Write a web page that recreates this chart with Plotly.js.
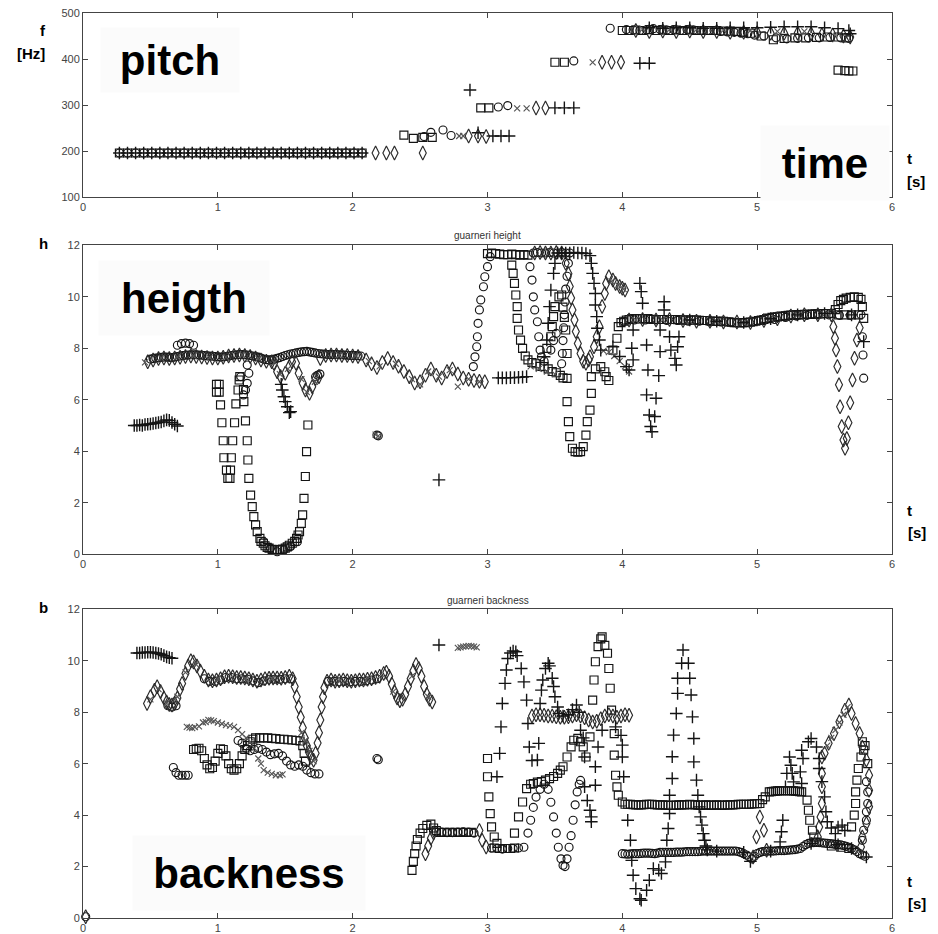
<!DOCTYPE html>
<html><head><meta charset="utf-8">
<script src="https://cdn.plot.ly/plotly-3.0.1.min.js"></script>
<style>html,body{margin:0;padding:0;background:#fff}#chart{width:938px;height:934px}</style>
</head><body><div id="chart"></div>
<script>
// ---------- PLOT 1: pitch (f [Hz] vs t [s]) ----------
const p1SqX=[0.27,0.33,0.39,0.45,0.51,0.57,0.63,0.69,0.75,0.81,0.87,0.93,0.99,1.05,1.11,1.17,1.23,1.29,1.35,1.41,1.47,1.53,1.59,1.65,1.71,1.77,1.83,1.89,1.95,2.01,2.07,2.38,2.45,2.52,2.59,2.95,3.01,3.50,3.57,4.00,4.05,4.10,4.15,4.20,4.25,4.30,4.35,4.40,4.45,4.50,4.55,4.60,4.65,4.70,4.75,4.80,4.85,4.90,4.95,5.03,5.12,5.20,5.28,5.36,5.44,5.52,5.60,5.66,5.60,5.65,5.68,5.71];
const p1SqY=[196,196,196,196,196,196,196,196,196,196,196,196,196,196,196,196,196,196,196,196,196,196,196,196,196,196,196,196,196,196,196,235,228,230,230,294,294,393,393,462,462,463,462,464,462,463,462,463,462,463,462,462,462,462,461,461,460,458,456,450,442,445,446,446,447,448,448,446,376,375,374,374];
const p1CiX=[0.27,0.33,0.39,0.45,0.51,0.57,0.63,0.69,0.75,0.81,0.87,0.93,0.99,1.05,1.11,1.17,1.23,1.29,1.35,1.41,1.47,1.53,1.59,1.65,1.71,1.77,1.83,1.89,1.95,2.01,2.07,2.53,2.58,2.67,2.73,3.08,3.15,3.64,3.91,4.03,4.08,4.13,4.18,4.23,4.28,4.33,4.38,4.43,4.48,4.53,4.58,4.63,4.68,4.73,4.78,4.83,4.88,4.93,4.98,5.05,5.14,5.22,5.30,5.38,5.46,5.54,5.62,5.68];
const p1CiY=[196,196,196,196,196,196,196,196,196,196,196,196,196,196,196,196,196,196,196,196,196,196,196,196,196,196,196,196,196,196,196,232,241,246,234,296,299,396,467,464,463,462,463,466,464,463,464,462,464,463,462,462,462,460,459,458,456,455,452,450,446,444,445,446,446,447,446,445];
const p1DiX=[2.17,2.25,2.31,2.52,2.86,2.93,2.99,3.36,3.43,3.85,3.92,3.99,4.10,4.20,4.30,4.40,4.50,4.60,4.70,4.80,4.90,5.00,5.10,5.20,5.30,5.40,5.48,5.56,5.64,5.69];
const p1DiY=[196,196,196,196,233,233,232,294,294,393,393,393,462,460,461,460,461,460,460,458,458,457,456,456,456,455,453,452,450,448];
const p1XmX=[2.79,2.82,3.22,3.29,3.78,4.15,4.35,4.55,4.75,4.95,5.15,5.35];
const p1XmY=[233,233,293,293,393,465,464,464,463,462,460,460];
const p1PlX=[0.27,0.33,0.39,0.45,0.51,0.57,0.63,0.69,0.75,0.81,0.87,0.93,0.99,1.05,1.11,1.17,1.23,1.29,1.35,1.41,1.47,1.53,1.59,1.65,1.71,1.77,1.83,1.89,1.95,2.01,2.07,2.87,2.93,3.04,3.10,3.16,3.50,3.57,3.64,4.13,4.20,4.20,4.30,4.40,4.50,4.60,4.70,4.80,4.90,5.00,5.10,5.20,5.30,5.40,5.50,5.60,5.68,5.69];
const p1PlY=[196,196,196,196,196,196,196,196,196,196,196,196,196,196,196,196,196,196,196,196,196,196,196,196,196,196,196,196,196,196,196,333,240,233,233,233,294,294,294,391,391,468,467,468,468,467,467,468,468,468,469,470,470,470,468,466,462,455];

// ---------- PLOT 2: height (h vs t) ----------
const p2SqX=[0.99,1.01,0.99,1.01,1.02,1.03,1.04,1.045,1.064,1.074,1.09,1.094,1.10,1.11,1.124,1.134,1.15,1.158,1.163,1.19,1.193,1.205,1.218,1.223,1.23,1.243,1.255,1.267,1.28,1.292,1.312,1.337,1.366,1.403,1.44,1.478,1.515,1.552,1.584,1.606,1.619,1.629,1.639,1.649,1.658,1.668,1.32,1.35,1.38,1.42,1.46,1.50,1.53,1.57,1.595,
3.00,3.03,3.06,3.09,3.12,3.15,3.18,3.21,3.24,3.27,3.30,3.18,3.19,3.20,3.21,3.22,3.22,3.23,3.245,3.26,3.28,3.30,3.33,3.36,3.39,3.42,3.45,3.48,3.51,3.54,3.56,3.44,3.47,3.48,3.49,3.50,3.53,3.55,3.56,3.57,3.58,3.59,3.59,3.59,3.60,3.61,3.63,3.65,3.67,3.69,3.71,3.73,3.74,3.76,3.77,3.77,3.80,3.84,3.87,3.88,3.90,3.93,3.96,3.97,
3.99,4.03,4.07,4.11,4.15,4.19,4.23,4.27,4.31,4.35,4.39,4.43,4.47,4.51,4.55,4.59,4.63,4.67,4.71,4.75,4.79,4.83,4.87,4.91,4.95,4.99,5.03,5.07,5.11,5.15,5.19,5.23,5.27,5.31,5.35,5.39,5.43,5.47,5.51,5.55,
4.01,4.05,4.09,4.13,4.17,4.21,4.25,4.29,4.33,4.37,4.41,4.45,4.49,4.53,4.57,4.61,4.65,4.69,4.73,4.77,4.81,4.85,4.89,4.93,4.97,5.01,5.05,5.09,5.13,5.17,5.21,5.25,5.29,5.33,5.37,5.41,5.45,5.49,5.53,
5.58,5.60,5.62,5.64,5.66,5.69,5.72,5.75,5.77,5.78,5.79,5.60,5.65,5.70,5.75];
const p2SqY=[6.6,6.6,6.3,6.3,5.8,5.11,4.41,3.75,3.27,2.95,2.95,3.27,3.75,4.41,5.11,5.84,6.38,6.77,6.9,6.4,5.93,5.18,4.41,3.66,2.95,2.3,1.85,1.46,1.14,0.88,0.62,0.43,0.27,0.19,0.17,0.2,0.29,0.43,0.62,0.88,1.2,1.53,2.17,3.02,3.99,5.02,0.5,0.33,0.24,0.18,0.18,0.24,0.35,0.5,0.75,
11.68,11.7,11.68,11.66,11.64,11.64,11.66,11.64,11.62,11.64,11.62,11.23,10.91,10.52,10.07,9.62,9.16,8.71,8.32,8.0,7.7,7.55,7.45,7.4,7.3,7.29,7.2,7.1,7.05,6.95,6.85,8.0,8.45,8.84,9.23,9.62,10.0,10.07,9.6,9.2,8.71,7.8,6.83,5.93,5.15,4.57,4.12,3.99,3.97,3.99,4.18,4.63,5.15,5.6,6.25,6.9,7.2,7.29,7.09,6.9,6.75,7.93,8.39,8.84,
9.0,9.1,9.15,9.15,9.15,9.15,9.12,9.12,9.12,9.12,9.12,9.1,9.1,9.1,9.1,9.08,9.08,9.05,9.05,9.05,9.02,9.0,9.0,9.0,9.02,9.05,9.1,9.15,9.2,9.22,9.25,9.28,9.3,9.3,9.32,9.32,9.34,9.34,9.35,9.35,
9.05,9.12,9.15,9.15,9.15,9.13,9.12,9.12,9.12,9.12,9.11,9.1,9.1,9.1,9.09,9.08,9.06,9.05,9.05,9.03,9.01,9.0,9.0,9.01,9.03,9.08,9.12,9.17,9.21,9.24,9.26,9.29,9.3,9.31,9.32,9.33,9.34,9.35,9.35,
9.5,9.7,9.85,9.9,9.95,9.98,10.0,9.98,9.9,9.62,9.16,9.3,9.3,9.3,9.3];
const p2CiX=[0.50,0.54,0.58,0.62,0.66,0.70,0.74,0.78,0.82,0.86,0.90,0.94,0.98,1.02,1.06,1.10,1.14,1.18,1.22,1.26,1.30,1.34,1.38,1.42,1.46,1.50,1.54,1.58,1.62,1.66,1.70,1.74,1.78,1.82,1.86,1.90,1.94,1.98,2.02,2.06,
0.52,0.56,0.60,0.64,0.68,0.72,0.76,0.80,0.84,0.88,0.92,0.96,1.00,1.04,1.08,1.12,1.16,1.20,1.24,1.28,1.32,1.36,1.40,1.44,1.48,1.52,1.56,1.60,1.64,1.68,1.72,1.76,1.80,1.84,1.88,1.92,1.96,2.00,2.04,
0.70,0.73,0.76,0.79,0.82,1.17,1.19,1.205,1.218,1.23,1.218,1.34,1.39,1.44,1.49,1.54,1.59,1.725,1.757,1.74,2.18,2.19,
2.895,2.907,2.92,2.925,2.93,2.94,2.95,2.97,2.98,3.0,3.02,3.34,3.37,3.40,3.43,3.46,3.49,3.52,3.55,3.58,3.61,3.315,3.33,3.34,3.35,3.37,3.38,3.39,3.40,3.42,3.60,3.59,3.58,3.575,3.57,3.565,3.56,3.555,3.55,3.47,3.49,3.51,
4.01,4.09,4.17,4.25,4.33,4.41,4.49,4.57,4.65,4.73,4.81,4.89,4.97,5.05,5.13,5.21,5.29,5.37,5.45,5.53,5.61,5.69,5.77,5.78,5.785,5.79];
const p2CiY=[7.58,7.62,7.65,7.66,7.64,7.68,7.72,7.74,7.75,7.74,7.72,7.70,7.68,7.66,7.68,7.72,7.75,7.76,7.74,7.70,7.66,7.58,7.55,7.58,7.64,7.72,7.78,7.82,7.86,7.88,7.84,7.80,7.78,7.76,7.76,7.75,7.74,7.72,7.72,7.70,
7.6,7.63,7.66,7.65,7.66,7.7,7.73,7.75,7.75,7.73,7.71,7.69,7.67,7.67,7.7,7.74,7.76,7.75,7.72,7.68,7.62,7.56,7.56,7.61,7.68,7.75,7.8,7.84,7.87,7.86,7.82,7.79,7.77,7.76,7.76,7.75,7.73,7.72,7.71,
8.12,8.18,8.2,8.18,8.12,6.9,6.19,6.38,6.64,7.03,7.35,0.49,0.23,0.1,0.17,0.30,0.49,6.9,7.0,6.95,4.63,4.6,
7.29,7.67,8.06,8.45,8.97,9.49,9.88,10.39,10.78,11.17,11.56,11.7,11.72,11.7,11.7,11.72,11.7,11.7,11.72,11.7,11.7,11.17,10.65,10.0,9.49,9.03,8.45,7.93,7.67,7.5,11.3,10.8,10.3,9.8,9.3,8.8,8.3,7.8,7.4,7.93,8.3,8.58,
9.05,9.1,9.1,9.1,9.08,9.08,9.05,9.05,9.02,9.02,9.02,9.0,9.02,9.08,9.12,9.2,9.25,9.28,9.3,9.3,9.28,9.28,9.3,8.45,7.74,6.84];
const p2DiX=[0.48,0.52,0.56,0.60,0.64,0.68,0.72,0.76,0.80,0.84,0.88,0.92,0.96,1.00,1.04,1.08,1.12,1.16,1.20,1.24,1.28,1.32,1.36,1.40,
1.416,1.44,1.465,1.50,1.53,1.55,1.58,1.60,1.63,1.65,1.68,1.70,1.725,1.75,
1.76,1.80,1.84,1.88,1.92,1.96,2.00,2.04,
2.10,2.14,2.18,2.22,2.26,2.30,2.34,2.38,2.42,2.46,2.50,2.54,2.58,2.62,2.66,2.70,2.74,2.78,2.82,2.86,2.90,2.94,2.98,
3.35,3.39,3.43,3.47,3.51,3.55,3.58,3.60,3.61,3.62,3.63,3.645,3.655,3.67,3.69,3.71,3.73,3.75,3.76,3.79,3.81,3.83,3.85,3.87,3.88,3.90,3.93,3.95,3.98,4.0,4.02,
4.05,4.15,4.25,4.35,4.45,4.55,4.65,4.75,4.85,4.95,5.05,5.15,5.25,5.35,5.45,5.55,
5.565,5.577,5.585,5.595,5.607,5.615,5.627,5.64,5.652,5.665,5.677,5.69,5.707,5.722,5.74,5.76];
const p2DiY=[7.48,7.55,7.6,7.62,7.6,7.62,7.65,7.68,7.7,7.68,7.66,7.64,7.62,7.62,7.65,7.7,7.72,7.74,7.72,7.68,7.62,7.55,7.5,7.48,
7.42,7.09,6.9,7.03,7.29,7.48,7.42,7.03,6.64,6.38,6.25,6.51,6.83,6.9,
7.6,7.72,7.74,7.74,7.72,7.72,7.7,7.68,
7.55,7.4,7.25,7.45,7.6,7.45,7.3,7.1,6.9,6.65,6.7,6.95,7.2,6.95,6.85,7.1,7.2,7.0,6.85,6.8,6.75,6.72,6.7,
11.7,11.72,11.7,11.7,11.72,11.7,11.3,10.9,10.4,9.95,9.49,9.1,8.65,8.19,7.8,7.5,7.42,7.55,7.67,8.06,8.45,8.84,9.62,10.13,10.52,10.78,10.65,10.52,10.4,10.33,10.26,
9.1,9.12,9.1,9.12,9.08,9.05,9.05,9.02,9.02,9.0,9.08,9.15,9.25,9.3,9.3,9.3,
8.84,8.39,7.93,7.29,6.58,5.73,4.96,4.44,4.12,4.5,5.11,5.89,6.77,7.61,8.32,8.8];
const p2XmX=[0.46,0.58,0.70,0.82,0.94,1.06,1.18,1.30,1.42,1.46,1.52,1.62,1.66,1.72,1.90,2.02,2.12,2.20,2.32,2.44,2.50,2.56,2.64,2.72,2.78,2.86,2.94,2.17,2.19,
3.32,3.38,3.44,3.50,3.86,3.90,3.94,3.98,4.02,4.05,3.92,3.97,4.01,4.1,4.3,4.5,4.7,4.9,5.1,5.3,5.5];
const p2XmY=[7.45,7.62,7.66,7.7,7.64,7.66,7.74,7.6,7.45,7.0,7.2,6.8,6.3,6.7,7.72,7.7,7.5,7.3,7.4,6.8,6.6,7.1,6.9,7.15,6.51,6.8,6.7,4.65,4.6,
7.3,7.2,7.1,7.0,7.9,7.85,7.7,7.5,7.3,7.1,10.6,10.45,10.3,9.1,9.1,9.05,9.05,9.0,9.15,9.3,9.32];
const p2PlX=[0.38,0.40,0.42,0.44,0.46,0.48,0.50,0.52,0.54,0.56,0.58,0.60,0.62,0.64,0.66,0.68,0.70,
1.47,1.478,1.49,1.50,1.515,1.53,1.54,2.64,
3.08,3.11,3.14,3.17,3.20,3.23,3.26,3.29,3.42,3.44,3.45,3.46,3.47,3.49,3.50,
3.52,3.55,3.58,3.61,3.64,3.67,3.70,3.73,3.76,3.77,3.78,3.79,3.80,3.80,3.81,3.815,3.83,3.84,
3.93,3.98,4.03,4.05,4.08,4.07,4.08,4.13,4.14,4.15,4.18,4.19,4.27,4.18,4.25,4.2,4.24,4.21,4.22,4.28,4.31,4.31,4.35,4.36,4.39,4.40,4.42,4.41,4.28,
4.5,4.7,4.9,5.1,5.3,5.5,5.7,5.79];
const p2PlY=[5.0,5.0,5.02,5.0,5.04,5.05,5.06,5.08,5.1,5.12,5.14,5.18,5.22,5.2,5.12,5.05,4.98,
6.6,6.38,6.12,5.93,5.73,5.5,5.54,2.89,
6.85,6.85,6.85,6.86,6.86,6.87,6.88,6.9,7.67,8.32,8.97,9.62,10.26,10.91,11.3,
11.7,11.7,11.7,11.7,11.72,11.7,11.7,11.68,11.6,11.3,10.91,10.52,10.13,9.68,9.23,8.78,8.32,7.93,
8.06,7.68,7.29,7.16,8.71,8.0,7.55,10.52,10.2,9.75,8.13,7.16,6.94,6.19,6.06,5.41,5.35,4.96,4.76,8.71,9.81,9.49,8.45,7.93,7.61,7.35,8.45,8.06,7.87,
9.1,9.05,9.0,9.15,9.3,9.35,9.3,8.26];

// ---------- PLOT 3: backness (b vs t) ----------
const p3SqX=[0.82,0.84,0.86,0.88,0.90,0.92,0.94,0.96,0.98,1.00,1.02,1.04,1.06,1.08,1.10,1.12,1.14,1.16,1.18,1.20,1.22,1.24,1.26,1.28,1.31,1.34,1.37,1.40,1.43,1.46,1.49,1.52,1.55,1.58,1.61,1.63,1.64,1.65,
2.44,2.45,2.46,2.47,2.48,2.50,2.52,2.55,2.58,2.60,2.62,
2.64,2.68,2.72,2.76,2.80,2.84,2.88,
3.0,3.0,3.01,3.02,3.03,3.05,3.07,3.05,3.09,3.13,3.17,3.2,
3.2,3.23,3.26,3.29,3.32,3.34,3.37,3.40,3.43,3.46,3.49,3.52,3.54,3.56,3.59,3.62,3.64,3.67,3.69,3.71,3.73,3.76,
3.78,3.79,3.80,3.82,3.84,3.85,3.87,3.89,3.9,3.91,3.92,3.94,3.94,3.95,3.96,3.97,4.0,
4.02,4.06,4.10,4.14,4.18,4.22,4.26,4.30,4.34,4.38,4.42,4.46,4.50,4.54,4.58,4.62,4.66,4.70,4.74,4.78,4.82,4.86,4.90,4.94,4.98,5.02,
4.04,4.08,4.12,4.16,4.20,4.24,4.28,4.32,4.36,4.40,4.44,4.48,4.52,4.56,4.60,4.64,4.68,4.72,4.76,4.80,4.84,4.88,4.92,4.96,5.00,5.04,
5.06,5.09,5.12,5.15,5.18,5.21,5.24,5.27,5.30,5.33,5.105,5.135,5.165,5.195,5.225,5.255,5.285,5.315,5.37,5.38,5.39,5.41,5.42,5.44,
5.70,5.72,5.73,5.73,5.74,5.75,5.77,5.79,5.78,5.82,5.80,5.55,5.62,5.68];
const p3SqY=[6.55,6.58,6.6,6.5,6.2,5.95,5.8,5.85,6.1,6.4,6.58,6.55,6.3,6.0,5.8,5.75,5.8,6.0,6.3,6.55,6.7,6.85,6.95,7.0,7.0,7.0,7.0,6.98,6.97,6.95,6.95,6.93,6.92,6.9,6.88,6.7,6.4,6.1,
1.85,2.2,2.5,2.8,3.05,3.3,3.48,3.6,3.65,3.5,3.4,
3.33,3.33,3.33,3.33,3.33,3.33,3.33,
6.2,5.49,4.71,4.06,3.54,3.15,2.9,2.72,2.7,2.7,2.7,2.72,
3.3,3.93,4.51,5.03,5.2,5.23,5.28,5.3,5.36,5.42,5.5,5.62,5.75,5.88,6.26,6.65,6.91,6.98,6.85,6.65,6.26,7.04,
8.47,9.25,9.96,10.55,10.85,10.93,10.6,10.29,9.7,8.93,8.08,7.17,6.33,5.55,5.1,4.77,4.51,
4.42,4.42,4.4,4.4,4.42,4.42,4.4,4.4,4.38,4.38,4.4,4.4,4.42,4.4,4.38,4.4,4.38,4.4,4.38,4.4,4.4,4.42,4.42,4.42,4.44,4.45,
4.42,4.41,4.4,4.41,4.42,4.41,4.4,4.39,4.38,4.39,4.4,4.41,4.41,4.39,4.39,4.39,4.39,4.39,4.39,4.4,4.41,4.42,4.42,4.43,4.44,4.6,
4.71,4.9,4.92,4.94,4.95,4.95,4.95,4.94,4.92,4.9,4.91,4.93,4.95,4.95,4.95,4.95,4.93,4.91,4.58,4.19,3.8,3.41,3.15,2.95,
3.54,4.0,4.45,4.9,5.36,5.81,6.26,6.52,6.85,6.0,6.7,2.8,2.75,2.7];
const p3CiX=[0.02,0.63,0.66,0.69,0.90,0.94,0.98,1.02,1.06,1.10,1.14,1.18,1.22,1.26,1.30,1.34,1.38,1.42,1.46,1.50,1.54,1.82,1.86,1.90,1.94,1.98,2.02,2.06,2.10,2.14,2.18,
0.67,0.69,0.71,0.735,0.76,0.78,1.15,1.18,1.21,1.24,1.27,1.30,1.33,1.36,1.39,1.42,1.45,1.48,1.51,1.54,1.57,1.60,1.63,1.66,1.69,1.72,1.75,2.18,2.19,
2.62,2.66,2.70,2.74,2.78,2.82,2.86,2.90,3.03,3.07,3.11,3.15,3.19,3.23,3.27,
3.30,3.32,3.34,3.36,3.39,3.42,3.45,3.47,3.49,3.51,3.525,3.545,3.56,3.575,3.59,3.605,3.62,3.635,3.65,3.665,3.68,3.69,
4.00,4.04,4.08,4.12,4.16,4.20,4.24,4.28,4.32,4.36,4.40,4.44,4.48,4.52,4.56,4.60,4.64,4.68,4.72,4.76,4.80,4.84,4.88,4.92,4.96,5.00,5.04,5.08,5.12,5.16,5.20,5.24,5.28,5.32,5.36,5.40,5.44,5.48,5.52,5.56,5.60,5.64,5.68,5.72,5.76,5.80,
4.02,4.06,4.10,4.14,4.18,4.22,4.26,4.30,4.34,4.38,4.42,4.46,4.50,4.54,4.58,4.62,4.66,4.70,4.74,4.78,4.82,4.86,4.90,4.94,4.98,5.02,5.06,5.10,5.14,5.18,5.22,5.26,5.30,5.34,5.38,5.42,5.46,5.50,5.54,5.58,5.62,5.66,5.70,5.74,5.78,
5.78,5.79,5.81,5.81,5.82,5.82,5.81];
const p3CiY=[0.05,8.25,8.2,8.25,9.3,9.2,9.2,9.25,9.35,9.35,9.3,9.3,9.28,9.22,9.15,9.22,9.28,9.28,9.28,9.3,9.3,9.2,9.2,9.18,9.2,9.18,9.2,9.2,9.22,9.25,9.3,
5.85,5.65,5.55,5.55,5.55,5.55,6.9,6.8,6.6,6.5,6.55,6.6,6.55,6.45,6.35,6.38,6.4,6.3,6.1,5.95,5.9,5.95,5.9,5.75,5.65,5.6,5.6,6.2,6.15,
3.35,3.33,3.32,3.32,3.33,3.35,3.33,3.3,2.72,2.7,2.68,2.7,2.7,2.72,2.75,
3.3,3.8,4.3,4.7,5.0,5.2,5.0,4.5,3.93,3.3,2.75,2.3,2.05,2.0,2.3,2.75,3.2,3.8,4.4,4.9,5.2,5.35,
2.5,2.48,2.5,2.5,2.52,2.52,2.5,2.55,2.55,2.55,2.56,2.56,2.58,2.58,2.58,2.6,2.6,2.6,2.6,2.6,2.6,2.6,2.55,2.45,2.3,2.5,2.58,2.6,2.6,2.62,2.62,2.64,2.66,2.7,2.85,2.92,2.94,2.92,2.9,2.88,2.85,2.82,2.75,2.65,2.5,2.4,
2.49,2.49,2.5,2.51,2.52,2.51,2.52,2.55,2.55,2.55,2.56,2.57,2.58,2.58,2.59,2.6,2.6,2.6,2.6,2.6,2.6,2.58,2.5,2.38,2.4,2.55,2.59,2.6,2.61,2.62,2.63,2.65,2.68,2.78,2.9,2.93,2.93,2.91,2.89,2.86,2.84,2.79,2.7,2.58,2.45,
3.02,3.41,3.8,4.13,4.45,4.9,5.3];
const p3DiX=[0.02,0.475,0.50,0.53,0.55,0.575,0.60,0.62,0.64,0.66,0.68,0.70,0.72,0.735,0.76,0.78,0.80,0.82,0.845,0.87,0.90,0.93,0.96,0.99,1.02,1.05,1.08,1.11,1.14,1.17,1.20,1.23,1.26,1.29,1.32,1.35,1.38,1.41,1.44,1.47,1.50,1.53,1.555,1.57,1.585,1.60,1.615,1.63,1.645,1.66,1.675,1.69,1.71,1.725,1.74,1.75,1.76,1.77,1.78,1.79,1.81,1.84,1.87,1.90,1.93,1.96,1.99,2.02,2.05,2.08,2.11,2.14,2.17,2.20,2.23,2.25,2.27,2.29,2.31,2.33,2.35,2.37,2.39,2.41,2.43,2.45,2.47,2.49,2.51,2.53,2.55,2.57,2.59,
2.54,2.56,2.58,2.60,2.94,2.96,2.99,
3.33,3.36,3.39,3.42,3.45,3.48,3.51,3.54,3.57,3.60,3.63,3.66,3.69,3.72,3.75,3.78,3.81,3.84,3.87,3.90,3.93,3.96,3.99,4.02,4.05,
4.97,4.995,5.02,5.05,5.07,
5.48,5.48,5.48,5.48,5.47,5.46,5.45,
5.50,5.53,5.57,5.61,5.65,5.68,5.70,5.73,5.76,5.78,5.81,5.83,5.83,5.83,5.81,5.78,5.77];
const p3DiY=[0.05,8.34,8.6,8.85,8.99,8.8,8.55,8.4,8.3,8.28,8.35,8.55,8.9,9.12,9.5,9.8,10.0,9.95,9.8,9.6,9.4,9.25,9.22,9.25,9.3,9.38,9.4,9.38,9.35,9.35,9.33,9.3,9.25,9.2,9.25,9.3,9.32,9.33,9.33,9.32,9.35,9.4,9.3,9.0,8.6,8.2,7.8,7.4,7.0,6.7,6.45,6.25,6.13,6.4,6.8,7.2,7.7,8.2,8.6,8.95,9.2,9.25,9.2,9.22,9.25,9.22,9.2,9.22,9.25,9.25,9.28,9.3,9.35,9.4,9.5,9.55,9.4,9.1,8.8,8.55,8.45,8.5,8.7,9.0,9.3,9.6,9.85,9.7,9.4,9.0,8.7,8.5,8.4,
2.5,2.8,3.1,3.3,3.4,3.02,2.76,
7.85,7.9,7.9,7.88,7.85,7.85,7.82,7.8,7.8,7.82,7.85,7.9,7.85,7.78,7.7,7.62,7.65,7.75,7.85,7.9,7.85,7.8,7.85,7.9,7.88,
2.37,3.15,3.93,3.41,2.63,
6.26,5.62,5.1,4.45,3.93,3.54,3.15,
6.4,6.79,7.17,7.63,8.08,8.28,7.95,7.56,7.17,6.65,6.14,5.55,4.97,4.32,3.67,3.15,2.76];
const p3XmX=[0.77,0.79,0.81,0.83,0.86,0.89,0.91,0.93,0.95,0.97,1.00,1.03,1.06,1.09,1.12,1.15,1.18,1.21,1.24,1.27,1.30,1.32,1.34,1.37,1.40,1.43,1.46,1.48,1.62,1.65,1.68,1.71,
2.78,2.80,2.82,2.84,2.86,2.88,2.90,2.92,
5.52,5.55,5.58,5.61,5.64,5.67,
0.50,0.56,0.62,0.70,0.76,0.84,1.0,1.2,1.4,1.9,2.1,2.3,2.44,2.56];
const p3XmY=[7.43,7.4,7.38,7.42,7.45,7.6,7.62,7.7,7.68,7.65,7.6,7.55,7.5,7.48,7.43,7.3,7.15,7.0,6.85,6.6,6.2,6.0,5.75,5.65,5.6,5.55,5.55,5.58,7.2,6.9,6.5,6.1,
10.5,10.52,10.55,10.56,10.58,10.57,10.55,10.52,
6.7,7.0,7.3,7.6,7.9,8.2,
8.5,8.9,8.35,8.6,9.55,9.85,9.3,9.3,9.3,9.2,9.25,8.8,9.4,8.6];
const p3PlX=[0.40,0.42,0.44,0.46,0.48,0.50,0.52,0.54,0.56,0.58,0.60,0.62,0.64,0.66,2.64,
3.07,3.09,3.10,3.11,3.13,3.14,3.15,3.17,3.19,3.21,3.22,3.25,3.27,3.29,3.30,3.31,3.33,3.37,3.38,
3.39,3.40,3.41,3.43,3.45,3.46,3.48,3.49,3.50,3.52,3.53,3.56,3.60,3.63,3.66,3.68,
3.69,3.71,3.72,3.72,3.74,3.76,3.77,3.77,3.80,3.80,3.82,3.85,
3.95,3.99,4.0,4.0,4.01,4.04,4.06,4.07,4.08,4.10,4.13,4.14,4.18,4.20,4.23,4.27,4.29,4.32,4.33,4.34,4.35,4.35,4.37,4.37,4.38,4.40,4.41,4.41,4.44,4.45,
4.49,4.50,4.51,4.52,4.53,4.53,4.55,4.56,4.57,4.58,4.59,4.60,4.61,4.62,4.63,
5.17,5.18,5.19,5.21,5.22,5.24,5.25,5.26,5.27,5.32,5.33,5.33,5.34,5.38,5.40,5.44,5.46,5.46,5.48,5.50,5.51,5.52,5.55,5.58,5.60,5.63,5.65,5.81,
4.7,4.9,4.95,5.1,5.4,5.6,5.7];
const p3PlY=[10.3,10.3,10.32,10.32,10.33,10.33,10.32,10.3,10.28,10.25,10.2,10.15,10.12,10.1,10.61,
5.49,6.4,7.43,8.34,9.12,9.64,10.09,10.3,10.38,10.35,10.2,9.7,9.18,8.47,7.56,6.65,6.12,6.14,6.79,
8.34,8.86,9.25,9.7,9.9,9.8,9.32,9.0,8.6,8.2,7.95,7.85,7.9,8.1,8.28,8.0,
7.3,7.0,6.26,5.1,4.57,4.19,3.93,3.74,5.16,5.88,6.65,7.3,
7.43,7.1,6.72,6.26,5.49,3.8,3.02,2.24,1.66,1.14,0.75,0.69,1.08,1.47,1.92,1.86,1.73,2.18,3.02,3.48,4.06,4.77,5.42,6.27,7.11,7.95,8.73,9.32,9.9,10.42,
9.9,9.32,8.67,7.82,6.98,6.07,5.36,4.77,4.32,3.93,3.61,3.28,3.02,2.8,2.65,
2.96,3.35,3.8,5.1,5.62,6.26,5.94,5.62,5.29,5.68,5.23,6.52,6.2,6.85,6.98,6.65,6.2,5.81,5.3,4.71,4.13,3.74,3.5,3.28,3.54,3.61,3.4,2.37,
2.6,2.55,2.2,2.6,2.9,2.85,2.7];

// ---------- build ----------
const INK='#141414';
const sym={sq:'square-open',ci:'circle-open',di:'diamond-tall-open',xm:'x-thin-open',pl:'cross-thin-open'};
const sz={sq:8,ci:8,di:10,xm:6,pl:9};
const col={sq:INK,ci:INK,di:'#2a2a2a',xm:'#555',pl:INK};
function tr(x,y,k,ax){
  return {type:'scatter',mode:'markers',x:x,y:y,xaxis:'x'+ax,yaxis:'y'+ax,cliponaxis:false,hoverinfo:'skip',
    marker:{symbol:sym[k],size:sz[k],color:col[k],line:{width:k==='pl'?1.4:1.15,color:col[k]}}};
}
const data=[
 tr(p1SqX,p1SqY,'sq',''),tr(p1CiX,p1CiY,'ci',''),tr(p1DiX,p1DiY,'di',''),tr(p1XmX,p1XmY,'xm',''),tr(p1PlX,p1PlY,'pl',''),
 tr(p2SqX,p2SqY,'sq','2'),tr(p2CiX,p2CiY,'ci','2'),tr(p2DiX,p2DiY,'di','2'),tr(p2XmX,p2XmY,'xm','2'),tr(p2PlX,p2PlY,'pl','2'),
 tr(p3SqX,p3SqY,'sq','3'),tr(p3CiX,p3CiY,'ci','3'),tr(p3DiX,p3DiY,'di','3'),tr(p3XmX,p3XmY,'xm','3'),tr(p3PlX,p3PlY,'pl','3')
];
const FONT='"Liberation Sans", Arial, sans-serif';
const axBase={showline:true,mirror:'ticks',linecolor:'#444',linewidth:1,ticks:'inside',ticklen:5,tickcolor:'#444',
  tickfont:{family:FONT,size:11,color:'#444'},showgrid:false,zeroline:false,fixedrange:true};
const xa=(anchor)=>Object.assign({},axBase,{range:[0,6],tick0:0,dtick:1,anchor:anchor});
const ya=(dom,rng,dt,anchor)=>Object.assign({},axBase,{domain:dom,range:rng,tick0:0,dtick:dt,anchor:anchor});
function lab(t,x,y,size){return {text:'<b>'+t+'</b>',xref:'paper',yref:'paper',x:x,y:y,xanchor:'center',yanchor:'middle',showarrow:false,font:{family:FONT,size:size||15,color:'#000'}};}
function big(t,x,y,w,h){return {text:'<b>'+t+'</b>',xref:'paper',yref:'paper',x:x,y:y,xanchor:'center',yanchor:'middle',showarrow:false,width:w,height:h,borderpad:0,bgcolor:'#fbfbfb',font:{family:FONT,size:42,color:'#000'}};}
function ttl(t,y){return {text:t,xref:'paper',yref:'paper',x:0.5,y:y,xanchor:'center',yanchor:'middle',showarrow:false,font:{family:FONT,size:10,color:'#333'}};}
const layout={
  width:938,height:934,margin:{l:83,r:46,t:13,b:16},paper_bgcolor:'#fff',plot_bgcolor:'#fff',showlegend:false,hovermode:false,
  xaxis:xa('y'),yaxis:ya([0.7964,1],[100,500],100,'x'),
  xaxis2:xa('y2'),yaxis2:ya([0.4019,0.7433],[0,12],2,'x2'),
  xaxis3:xa('y3'),yaxis3:ya([0,0.3411],[0,12],2,'x3'),
  annotations:[
    lab('f',-0.0494,0.9812),lab('[Hz]',-0.0643,0.9547),lab('t',1.0222,0.8387),lab('[s]',1.0297,0.8133),
    lab('h',-0.0494,0.7448),lab('t',1.0222,0.4508),lab('[s]',1.0309,0.4265),
    lab('b',-0.0494,0.3436),lab('t',1.0222,0.0398),lab('[s]',1.0309,0.0155),
    ttl('guarneri height',0.7536),ttl('guarneri backness',0.3503),
    big('pitch',0.1075,0.9481,138,64),big('time',0.9172,0.8343,128,74),
    big('heigth',0.1248,0.6851,170,74),big('backness',0.2052,0.0497,232,74)
  ]
};
Plotly.newPlot('chart',data,layout,{displayModeBar:false,staticPlot:true});
</script></body></html>
